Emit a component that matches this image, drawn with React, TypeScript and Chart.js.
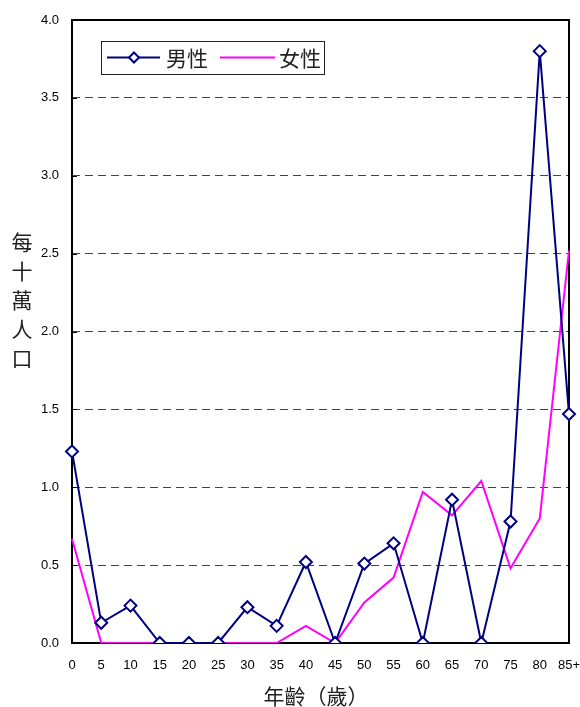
import React, { useEffect, useRef } from "react";
import { Chart, registerables } from "chart.js";

Chart.register(...registerables);

const ageGroups = ["0", "5", "10", "15", "20", "25", "30", "35", "40", "45", "50", "55", "60", "65", "70", "75", "80", "85+"];
const maleRates = [1.23, 0.13, 0.24, 0, 0, 0, 0.23, 0.11, 0.52, 0, 0.51, 0.64, 0, 0.92, 0, 0.78, 3.8, 1.47];
const femaleRates = [0.67, 0, 0, 0, 0, 0, 0, 0, 0.11, 0, 0.26, 0.42, 0.97, 0.82, 1.04, 0.48, 0.8, 2.52];
const seriesNames = ["男性", "女性"];
const yAxisTitle = ["每", "十", "萬", "人", "口"];
const xAxisTitle = "年齡（歲）";
const yMin = 0;
const yMax = 4;
const yStep = 0.5;

const MALE_COLOR = "#000080";
const FEMALE_COLOR = "#FF00FF";
const NUM_FONT = "Arial, 'Liberation Sans', sans-serif";
const CJK_FONT = "'Noto Sans CJK TC', 'Noto Sans CJK SC', sans-serif";

function drawDiamond(ctx: CanvasRenderingContext2D, x: number, y: number, r: number) {
  ctx.beginPath();
  ctx.moveTo(x, y - r);
  ctx.lineTo(x + r, y);
  ctx.lineTo(x, y + r);
  ctx.lineTo(x - r, y);
  ctx.closePath();
  ctx.fillStyle = "#fff";
  ctx.fill();
  ctx.strokeStyle = MALE_COLOR;
  ctx.lineWidth = 2;
  ctx.stroke();
}

const decorPlugin = {
  id: "decor",
  beforeDatasetsDraw(chart: any) {
    const { ctx, chartArea } = chart;
    ctx.save();
    ctx.strokeStyle = "#000";
    ctx.lineWidth = 2;
    ctx.strokeRect(chartArea.left, chartArea.top, chartArea.right - chartArea.left, chartArea.bottom - chartArea.top);
    // small inside tick marks on the left axis
    const yScale = chart.scales.y;
    ctx.lineWidth = 1;
    for (let v = yMin; v <= yMax + 1e-9; v += yStep) {
      const py = Math.round(yScale.getPixelForValue(v)) + 0.5;
      ctx.beginPath();
      ctx.moveTo(chartArea.left, py);
      ctx.lineTo(chartArea.left + 5, py);
      ctx.stroke();
    }
    ctx.restore();
  },
  afterDraw(chart: any) {
    const { ctx, chartArea } = chart;
    ctx.save();
    // Legend box
    const bx = chartArea.left + 29;
    const by = chartArea.top + 21;
    const bw = 223;
    const bh = 33;
    ctx.fillStyle = "#fff";
    ctx.fillRect(bx, by, bw, bh);
    ctx.strokeStyle = "#222";
    ctx.lineWidth = 1;
    ctx.strokeRect(bx + 0.5, by + 0.5, bw, bh);
    const cy = by + 16.5;
    ctx.lineWidth = 2;
    ctx.strokeStyle = MALE_COLOR;
    ctx.beginPath();
    ctx.moveTo(bx + 6, cy);
    ctx.lineTo(bx + 59, cy);
    ctx.stroke();
    drawDiamond(ctx, bx + 33, cy, 5);
    ctx.strokeStyle = FEMALE_COLOR;
    ctx.beginPath();
    ctx.moveTo(bx + 119, cy);
    ctx.lineTo(bx + 174, cy);
    ctx.stroke();
    ctx.fillStyle = "#222";
    ctx.font = `21px ${CJK_FONT}`;
    ctx.textAlign = "left";
    ctx.textBaseline = "middle";
    ctx.fillText(seriesNames[0], bx + 65, cy + 1);
    ctx.fillText(seriesNames[1], bx + 178, cy + 1);

    // Y axis title (stacked)
    ctx.textAlign = "center";
    ctx.font = `21px ${CJK_FONT}`;
    yAxisTitle.forEach((ch, i) => {
      ctx.fillText(ch, 22, 242 + i * 29);
    });

    // X axis title
    ctx.fillText(xAxisTitle, 316, 696);
    ctx.restore();
  },
};

export default function App() {
  const canvasRef = useRef<HTMLCanvasElement | null>(null);

  useEffect(() => {
    if (!canvasRef.current) return;
    const chart = new Chart(canvasRef.current, {
      type: "line",
      data: {
        labels: ageGroups,
        datasets: [
          {
            label: seriesNames[1],
            data: femaleRates,
            borderColor: FEMALE_COLOR,
            backgroundColor: FEMALE_COLOR,
            borderWidth: 2,
            pointRadius: 0,
            tension: 0,
            order: 2,
          },
          {
            label: seriesNames[0],
            data: maleRates,
            borderColor: MALE_COLOR,
            backgroundColor: "#ffffff",
            borderWidth: 2,
            pointStyle: "rectRot",
            pointRadius: 6,
            pointBorderWidth: 2,
            pointBackgroundColor: "#ffffff",
            pointBorderColor: MALE_COLOR,
            tension: 0,
            order: 1,
          },
        ],
      },
      options: {
        animation: false,
        responsive: true,
        maintainAspectRatio: false,
        layout: { padding: { top: 20, right: 11, left: 0, bottom: 0 } },
        plugins: {
          legend: { display: false },
          tooltip: { enabled: false },
        },
        scales: {
          x: {
            type: "category",
            offset: false,
            grid: { display: false, drawTicks: false },
            border: { display: false },
            ticks: {
              color: "#000",
              font: { family: NUM_FONT, size: 13 },
              padding: 15,
              maxRotation: 0,
              autoSkip: false,
            },
            afterFit(scale: any) {
              scale.height = 64;
              scale.paddingLeft = 0;
              scale.paddingRight = 0;
            },
          },
          y: {
            min: yMin,
            max: yMax,
            grid: {
              color: "#444",
              lineWidth: 1,
              drawTicks: false,
            },
            border: { display: false, dash: [8, 5] },
            ticks: {
              stepSize: yStep,
              color: "#000",
              font: { family: NUM_FONT, size: 13 },
              padding: 13,
              callback: (v: any) => Number(v).toFixed(1),
            },
            afterFit(scale: any) {
              scale.width = 72;
              scale.paddingTop = 0;
              scale.paddingBottom = 0;
            },
          },
        },
      },
      plugins: [decorPlugin],
    });
    return () => chart.destroy();
  }, []);

  return (
    <div style={{ position: "fixed", left: 0, top: 0, width: 580, height: 707, background: "#fff" }}>
      <canvas ref={canvasRef} />
    </div>
  );
}
